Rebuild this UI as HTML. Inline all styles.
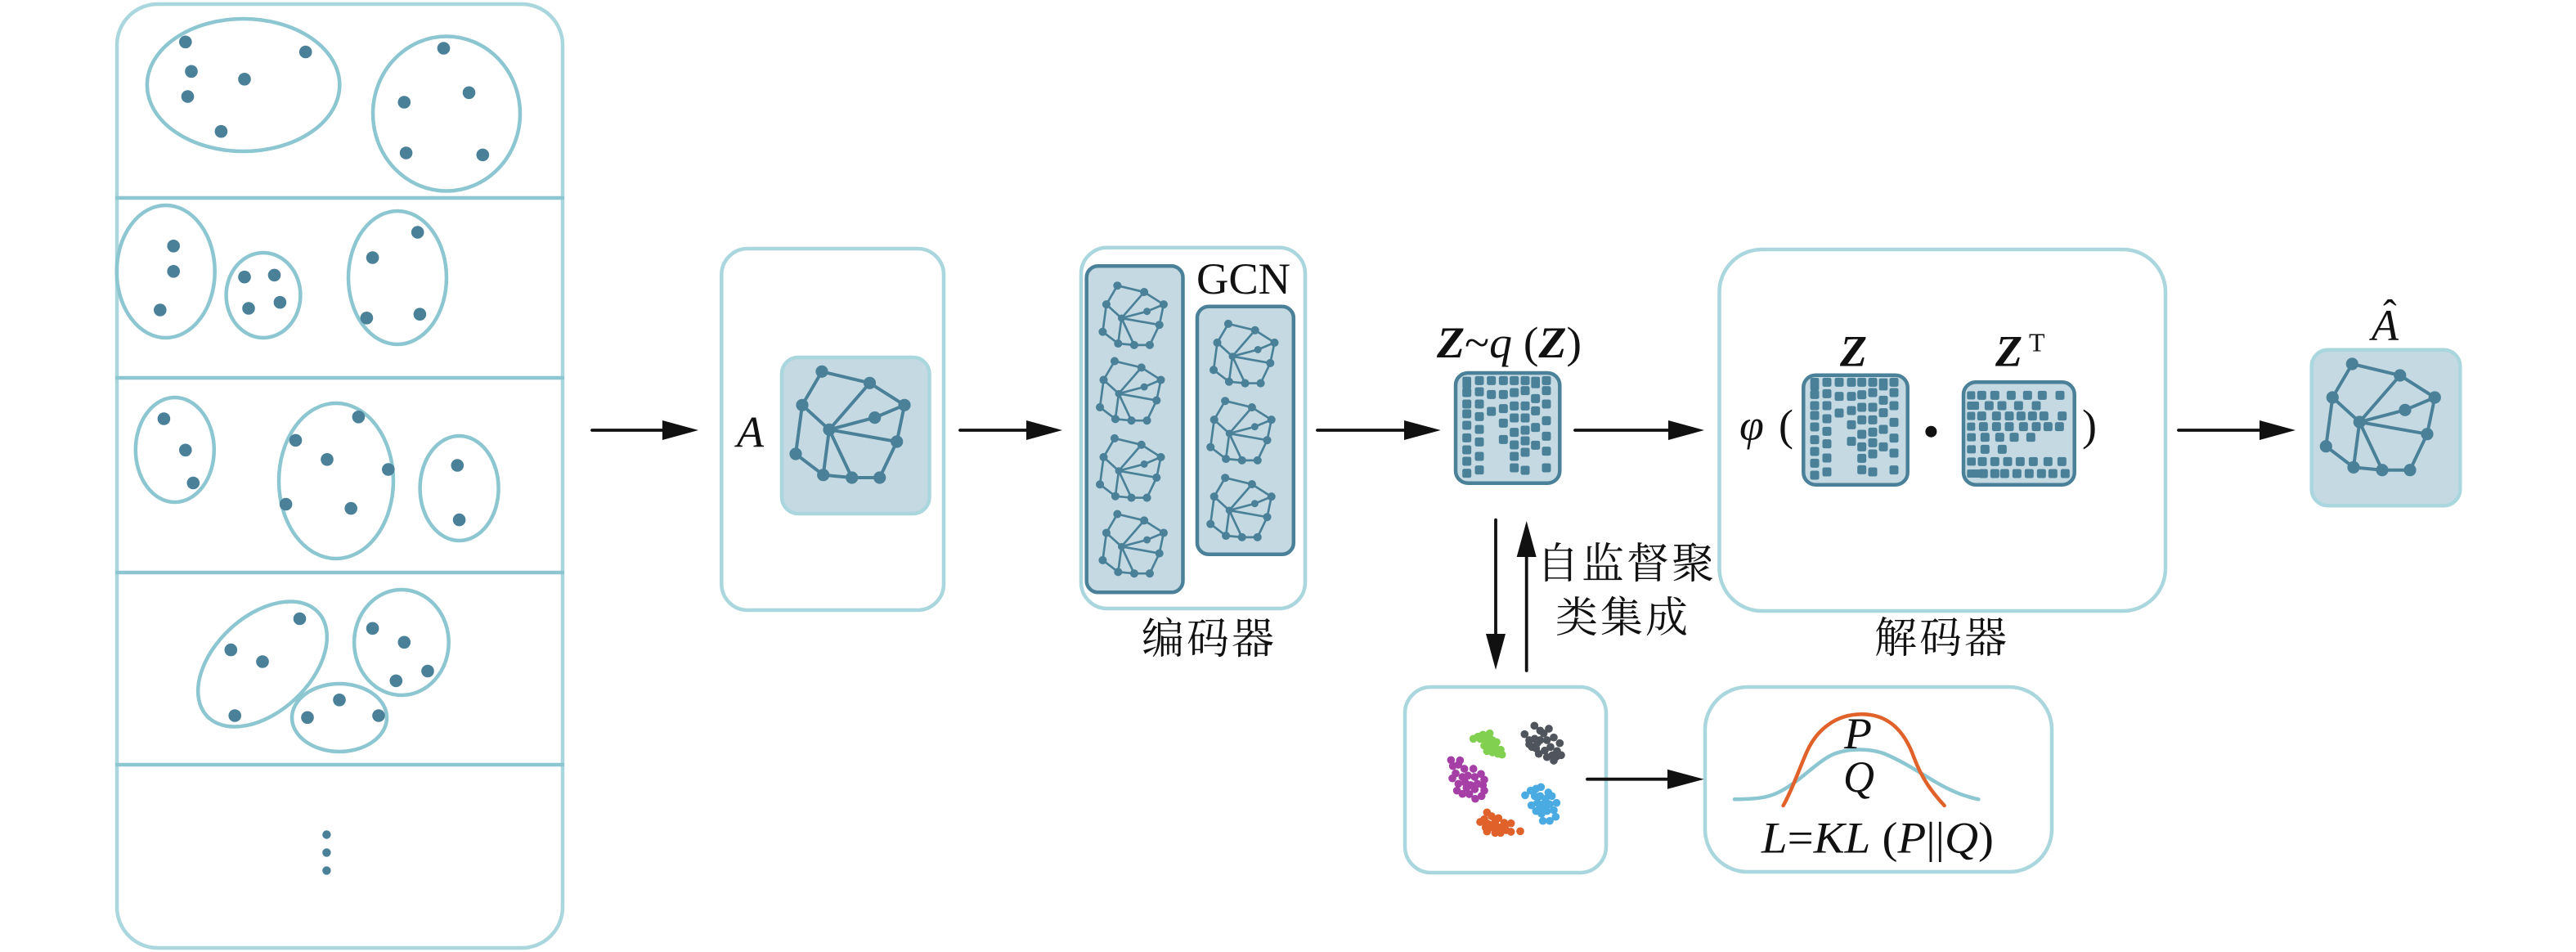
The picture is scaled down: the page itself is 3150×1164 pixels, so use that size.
<!DOCTYPE html>
<html><head><meta charset="utf-8"><style>
html,body{margin:0;padding:0;background:#fff;width:3150px;height:1164px;overflow:hidden}
svg{display:block}
text{font-family:"Liberation Serif","Noto Serif CJK SC",serif;fill:#111;font-size:54px}
.zh{font-family:"Liberation Serif","Noto Serif CJK SC",serif;font-size:52px;letter-spacing:3px}
.i{font-style:italic}.b{font-weight:bold;font-style:italic}
.box{fill:#fff;stroke:#aad6de;stroke-width:4.500}
.lt{fill:#c5d9e2;stroke:#aad6de;stroke-width:4.500}
.dk{fill:#c5d9e2;stroke:#4a8199;stroke-width:4.500}
.el{fill:none;stroke:#8cc6d0;stroke-width:4.500}
.dv{stroke:#8cc6d0;stroke-width:4.500}
.d circle{fill:#4a8199;r:7.800px}
.a line{stroke:#111;stroke-width:3.800;stroke-linecap:round}
.a polygon{fill:#111}
</style></head><body>
<svg xmlns="http://www.w3.org/2000/svg" width="3150" height="1164" viewBox="0 0 3150 1164">
<defs>
<g id="g">
<path d="M-9-71L49.500-57L92-30L55.700-14.700L0 0M-9-71L-33-30L0 0L49.500-57M-33-30L-41 29.700L-7.300 55.400L0 0L27.700 58.700M-7.300 55.400L27.700 58.700L61.700 58.700L82.700 14.700L0 0M92-30L82.700 14.700" fill="none" stroke="#4a8199" stroke-width="4" stroke-linejoin="round"/>
<g fill="#4a8199"><circle cx="-9" cy="-71" r="7.600"/><circle cx="49.500" cy="-57" r="7.600"/><circle cx="92" cy="-30" r="7.600"/><circle cx="55.700" cy="-14.700" r="7.600"/><circle cx="-33" cy="-30" r="7.600"/><circle r="7.600"/><circle cx="82.700" cy="14.700" r="7.600"/><circle cx="-41" cy="29.700" r="7.600"/><circle cx="-7.300" cy="55.400" r="7.600"/><circle cx="27.700" cy="58.700" r="7.600"/><circle cx="61.700" cy="58.700" r="7.600"/></g>
</g>
<g id="s" transform="scale(.56)">
<path d="M-9-71L49.500-57L92-30L55.700-14.700L0 0M-9-71L-33-30L0 0L49.500-57M-33-30L-41 29.700L-7.300 55.400L0 0L27.700 58.700M-7.300 55.400L27.700 58.700L61.700 58.700L82.700 14.700L0 0M92-30L82.700 14.700" fill="none" stroke="#4a8199" stroke-width="4.800" stroke-linejoin="round"/>
<g fill="#4a8199"><circle cx="-9" cy="-71" r="9"/><circle cx="49.500" cy="-57" r="9"/><circle cx="92" cy="-30" r="9"/><circle cx="55.700" cy="-14.700" r="8"/><circle cx="-33" cy="-30" r="9"/><circle r="8"/><circle cx="82.700" cy="14.700" r="9"/><circle cx="-41" cy="29.700" r="9"/><circle cx="-7.300" cy="55.400" r="9"/><circle cx="27.700" cy="58.700" r="9"/><circle cx="61.700" cy="58.700" r="9"/></g>
</g>
<rect id="c" x="-16.500" y="-16.500" width="33" height="33" rx="7" fill="#4a8199"/>
</defs>

<!-- left panel -->
<rect class="box" x="143" y="5" width="545" height="1154" rx="50"/>
<path class="dv" d="M141 242H690M141 462H690M141 700H690M141 935H690"/>
<g class="el">
<ellipse cx="297.600" cy="104" rx="117.700" ry="81"/>
<ellipse cx="546" cy="139" rx="90" ry="94.500"/>
<ellipse cx="202.700" cy="332" rx="60" ry="81"/>
<ellipse cx="322" cy="361" rx="45.400" ry="52"/>
<ellipse cx="486" cy="339.500" rx="60" ry="81.500"/>
<ellipse cx="213.800" cy="550" rx="48" ry="64"/>
<ellipse cx="411" cy="588" rx="70" ry="95"/>
<ellipse cx="561.600" cy="597" rx="48" ry="64"/>
<ellipse cx="321" cy="812" rx="93" ry="58.500" transform="rotate(-43 321 812)"/>
<ellipse cx="490.900" cy="785.500" rx="57.800" ry="64.500"/>
<ellipse cx="415" cy="877.500" rx="58" ry="41.500"/>
</g>
<g class="d">
<circle cx="226.800" cy="51.300"/><circle cx="373.700" cy="63.500"/><circle cx="234" cy="87.300"/><circle cx="299" cy="96.800"/><circle cx="229.500" cy="118"/><circle cx="270.400" cy="160.700"/>
<circle cx="542.500" cy="59"/><circle cx="573.500" cy="113.300"/><circle cx="494.300" cy="125"/><circle cx="496.600" cy="187"/><circle cx="590.300" cy="189.400"/>
<circle cx="212.200" cy="300.800"/><circle cx="212.200" cy="331.800"/><circle cx="195.800" cy="379"/>
<circle cx="299" cy="338.700"/><circle cx="335.500" cy="336.400"/><circle cx="304" cy="377"/><circle cx="342.400" cy="369.700"/>
<circle cx="510.700" cy="284"/><circle cx="455.600" cy="315"/><circle cx="448.400" cy="388.800"/><circle cx="513.400" cy="384.200"/>
<circle cx="200.400" cy="512"/><circle cx="226.800" cy="550.300"/><circle cx="236.300" cy="590.500"/>
<circle cx="438.400" cy="509.800"/><circle cx="361.500" cy="538.400"/><circle cx="400" cy="561.800"/><circle cx="474.800" cy="574"/><circle cx="349.600" cy="616.500"/><circle cx="429.200" cy="621.600"/>
<circle cx="559.300" cy="569"/><circle cx="561.600" cy="635.600"/>
<circle cx="366.500" cy="756.500"/><circle cx="282.300" cy="794.600"/><circle cx="321" cy="809"/><circle cx="287.200" cy="875"/>
<circle cx="455.600" cy="768.300"/><circle cx="494.300" cy="785.300"/><circle cx="523" cy="820.500"/><circle cx="484.300" cy="832.400"/>
<circle cx="415" cy="855.800"/><circle cx="376" cy="877.300"/><circle cx="463" cy="875"/>
</g>
<g fill="#4a8199"><circle cx="399.400" cy="1020.500" r="5.200"/><circle cx="399.400" cy="1042.400" r="5.200"/><circle cx="399.400" cy="1064.400" r="5.200"/></g>

<!-- A panel -->
<rect class="box" x="882.300" y="304" width="271.700" height="442" rx="32"/>
<rect class="lt" x="956" y="437" width="180.500" height="191" rx="20"/>
<use href="#g" x="1014" y="525.300"/>
<text class="i" x="901" y="546.500" textLength="33" lengthAdjust="spacingAndGlyphs">A</text>

<!-- encoder -->
<rect class="box" x="1322" y="302.700" width="274" height="441.300" rx="32"/>
<rect class="dk" x="1328.700" y="325.300" width="117.800" height="399" rx="14"/>
<rect class="dk" x="1464" y="374.700" width="117.800" height="303" rx="14"/>
<use href="#s" x="1371.400" y="389"/>
<use href="#s" x="1368" y="481.300"/>
<use href="#s" x="1368" y="575.700"/>
<use href="#s" x="1371.400" y="668.300"/>
<use href="#s" x="1507" y="435.700"/>
<use href="#s" x="1503.200" y="530"/>
<use href="#s" x="1503.200" y="624"/>
<text x="1463" y="359" textLength="115" lengthAdjust="spacingAndGlyphs">GCN</text>
<text class="zh" x="1396" y="799">编码器</text>

<!-- Z latent -->
<text x="1757" y="437" textLength="177" lengthAdjust="spacingAndGlyphs"><tspan class="b">Z</tspan>~<tspan class="i">q</tspan> (<tspan class="b">Z</tspan>)</text>
<rect class="dk" x="1780" y="456" width="127.300" height="134.700" rx="15"/>
<g transform="translate(1760 440) scale(.33333)">
<rect x="85" y="62" width="32" height="44" rx="6" fill="#4a8199"/>
<use href="#c" x="101" y="120"/><use href="#c" x="101" y="162"/><use href="#c" x="101" y="198"/><use href="#c" x="101" y="240"/><use href="#c" x="101" y="286"/><use href="#c" x="101" y="330"/><use href="#c" x="101" y="372"/><use href="#c" x="101" y="416"/>
<use href="#c" x="147" y="76"/><use href="#c" x="147" y="117"/><use href="#c" x="147" y="162"/><use href="#c" x="147" y="208"/><use href="#c" x="147" y="255"/><use href="#c" x="147" y="301"/><use href="#c" x="147" y="354"/><use href="#c" x="147" y="404"/>
<use href="#c" x="191" y="76"/><use href="#c" x="191" y="127"/><use href="#c" x="191" y="189"/>
<use href="#c" x="235" y="76"/><use href="#c" x="235" y="127"/><use href="#c" x="235" y="179"/><use href="#c" x="235" y="232"/><use href="#c" x="235" y="292"/>
<use href="#c" x="275" y="76"/><use href="#c" x="275" y="120"/><use href="#c" x="275" y="169"/><use href="#c" x="275" y="213"/><use href="#c" x="275" y="266"/><use href="#c" x="275" y="312"/><use href="#c" x="275" y="354"/><use href="#c" x="275" y="396"/>
<use href="#c" x="315" y="76"/><use href="#c" x="315" y="113"/><use href="#c" x="315" y="169"/><use href="#c" x="315" y="213"/><use href="#c" x="315" y="258"/><use href="#c" x="315" y="297"/><use href="#c" x="315" y="339"/><use href="#c" x="315" y="405"/>
<rect x="337" y="62" width="32" height="42" rx="6" fill="#4a8199"/>
<use href="#c" x="353" y="142"/><use href="#c" x="353" y="187"/><use href="#c" x="353" y="248"/><use href="#c" x="353" y="313"/>
<use href="#c" x="393" y="76"/><use href="#c" x="393" y="113"/><use href="#c" x="393" y="162"/><use href="#c" x="393" y="223"/><use href="#c" x="393" y="280"/><use href="#c" x="393" y="335"/><use href="#c" x="393" y="396"/>
</g>

<!-- decoder -->
<rect class="box" x="2102.500" y="305" width="545.500" height="442" rx="52"/>
<text class="i" x="2127" y="538">φ</text>
<text x="2175" y="538">(</text>
<text x="2546" y="538">)</text>
<text class="b" x="2250" y="447.500">Z</text>
<text class="b" x="2440" y="447.500">Z</text>
<text x="2481" y="429.500" style="font-size:32px">T</text>
<text class="zh" x="2292" y="798">解码器</text>
<circle cx="2361.400" cy="527.700" r="7" fill="#111"/>
<rect class="dk" x="2205.300" y="458.700" width="127.400" height="134" rx="15"/>
<g transform="translate(2190 440) scale(.33333)">
<rect x="71" y="66" width="32" height="46" rx="6" fill="#4a8199"/>
<use href="#c" x="87" y="127"/><use href="#c" x="87" y="168"/><use href="#c" x="87" y="204"/><use href="#c" x="87" y="246"/><use href="#c" x="87" y="293"/><use href="#c" x="87" y="336"/><use href="#c" x="87" y="379"/><use href="#c" x="87" y="423"/>
<use href="#c" x="132" y="82"/><use href="#c" x="132" y="124"/><use href="#c" x="132" y="168"/><use href="#c" x="132" y="216"/><use href="#c" x="132" y="262"/><use href="#c" x="132" y="308"/><use href="#c" x="132" y="360"/><use href="#c" x="132" y="411"/>
<use href="#c" x="177" y="82"/><use href="#c" x="177" y="134"/><use href="#c" x="177" y="195"/>
<use href="#c" x="222" y="82"/><use href="#c" x="222" y="134"/><use href="#c" x="222" y="186"/><use href="#c" x="222" y="238"/><use href="#c" x="222" y="299"/>
<use href="#c" x="260" y="82"/><use href="#c" x="260" y="128"/><use href="#c" x="260" y="174"/><use href="#c" x="260" y="220"/><use href="#c" x="260" y="273"/><use href="#c" x="260" y="319"/><use href="#c" x="260" y="361"/><use href="#c" x="260" y="403"/>
<use href="#c" x="300" y="82"/><use href="#c" x="300" y="120"/><use href="#c" x="300" y="174"/><use href="#c" x="300" y="220"/><use href="#c" x="300" y="265"/><use href="#c" x="300" y="304"/><use href="#c" x="300" y="345"/><use href="#c" x="300" y="411"/>
<rect x="323" y="68" width="32" height="44" rx="6" fill="#4a8199"/>
<use href="#c" x="339" y="148"/><use href="#c" x="339" y="194"/><use href="#c" x="339" y="255"/><use href="#c" x="339" y="319"/>
<use href="#c" x="378" y="82"/><use href="#c" x="378" y="120"/><use href="#c" x="378" y="168"/><use href="#c" x="378" y="229"/><use href="#c" x="378" y="287"/><use href="#c" x="378" y="342"/><use href="#c" x="378" y="404"/>
</g>
<rect class="dk" x="2401" y="467.300" width="135.700" height="125.400" rx="15"/>
<g transform="translate(2390 450) scale(.33333)">
<rect x="46" y="85" width="30" height="30" rx="6" fill="#4a8199"/><use href="#c" x="100" y="100"/><use href="#c" x="148" y="100"/><use href="#c" x="208" y="100"/><use href="#c" x="268" y="100"/><use href="#c" x="322" y="100"/><use href="#c" x="387" y="100"/>
<rect x="46" y="123" width="44" height="30" rx="6" fill="#4a8199"/><use href="#c" x="127" y="138"/><use href="#c" x="174" y="138"/><use href="#c" x="235" y="138"/><use href="#c" x="300" y="138"/>
<rect x="46" y="161" width="30" height="30" rx="6" fill="#4a8199"/><use href="#c" x="100" y="176"/><use href="#c" x="154" y="176"/><use href="#c" x="201" y="176"/><use href="#c" x="244" y="176"/><use href="#c" x="286" y="176"/><use href="#c" x="328" y="176"/><use href="#c" x="395" y="176"/>
<rect x="46" y="200" width="30" height="30" rx="6" fill="#4a8199"/><use href="#c" x="106" y="215"/><use href="#c" x="154" y="215"/><use href="#c" x="201" y="215"/><use href="#c" x="253" y="215"/><use href="#c" x="300" y="215"/><use href="#c" x="343" y="215"/><use href="#c" x="385" y="215"/>
<rect x="46" y="239" width="32" height="30" rx="6" fill="#4a8199"/><use href="#c" x="112" y="254"/><use href="#c" x="166" y="254"/><use href="#c" x="219" y="254"/><use href="#c" x="280" y="254"/>
<rect x="46" y="283" width="32" height="30" rx="6" fill="#4a8199"/><use href="#c" x="112" y="298"/><use href="#c" x="175" y="298"/>
<rect x="46" y="328" width="32" height="30" rx="6" fill="#4a8199"/><use href="#c" x="102" y="343"/><use href="#c" x="148" y="343"/><use href="#c" x="195" y="343"/><use href="#c" x="241" y="343"/><use href="#c" x="289" y="343"/><use href="#c" x="343" y="343"/><use href="#c" x="394" y="343"/>
<rect x="46" y="372" width="48" height="30" rx="6" fill="#4a8199"/><use href="#c" x="106" y="387"/><use href="#c" x="148" y="387"/><use href="#c" x="184" y="387"/><use href="#c" x="229" y="387"/><use href="#c" x="274" y="387"/><use href="#c" x="319" y="387"/><use href="#c" x="361" y="387"/><use href="#c" x="406" y="387"/>
</g>

<!-- A hat -->
<text class="i" x="2900" y="416" textLength="33" lengthAdjust="spacingAndGlyphs">A</text>
<text x="2914" y="401" style="font-size:50px">ˆ</text>
<rect class="lt" x="2826.700" y="427.700" width="181.600" height="190.600" rx="20"/>
<use href="#g" x="2885.300" y="516"/>

<!-- cluster box -->
<rect class="box" x="1718" y="840" width="246" height="227" rx="32"/>
<g transform="translate(1750 870) scale(.33333)">
<g fill="#82d050"><circle cx="155" cy="100" r="14.500"/><circle cx="172" cy="92" r="14.500"/><circle cx="190" cy="85" r="14.500"/><circle cx="215" cy="80" r="14.500"/><circle cx="205" cy="100" r="14.500"/><circle cx="225" cy="105" r="14.500"/><circle cx="240" cy="112" r="14.500"/><circle cx="195" cy="125" r="14.500"/><circle cx="215" cy="125" r="14.500"/><circle cx="235" cy="130" r="14.500"/><circle cx="205" cy="145" r="14.500"/><circle cx="225" cy="150" r="14.500"/><circle cx="255" cy="140" r="14.500"/><circle cx="245" cy="155" r="14.500"/><circle cx="260" cy="158" r="14.500"/><circle cx="200" cy="110" r="14.500"/><circle cx="180" cy="100" r="14.500"/></g>
<g fill="#50545c"><circle cx="343" cy="83" r="14.500"/><circle cx="379" cy="52" r="14.500"/><circle cx="400" cy="70" r="14.500"/><circle cx="432" cy="63" r="14.500"/><circle cx="413" cy="80" r="14.500"/><circle cx="450" cy="95" r="14.500"/><circle cx="360" cy="105" r="14.500"/><circle cx="380" cy="100" r="14.500"/><circle cx="400" cy="105" r="14.500"/><circle cx="425" cy="105" r="14.500"/><circle cx="472" cy="116" r="14.500"/><circle cx="370" cy="130" r="14.500"/><circle cx="385" cy="135" r="14.500"/><circle cx="417" cy="143" r="14.500"/><circle cx="438" cy="130" r="14.500"/><circle cx="395" cy="155" r="14.500"/><circle cx="425" cy="167" r="14.500"/><circle cx="450" cy="180" r="14.500"/><circle cx="462" cy="145" r="14.500"/><circle cx="477" cy="160" r="14.500"/><circle cx="460" cy="165" r="14.500"/><circle cx="445" cy="160" r="14.500"/><circle cx="360" cy="120" r="14.500"/><circle cx="390" cy="115" r="14.500"/></g>
<g fill="#a63fa5"><circle cx="73" cy="178" r="14.500"/><circle cx="106" cy="179" r="14.500"/><circle cx="80" cy="200" r="14.500"/><circle cx="100" cy="195" r="14.500"/><circle cx="122" cy="210" r="14.500"/><circle cx="155" cy="210" r="14.500"/><circle cx="90" cy="227" r="14.500"/><circle cx="115" cy="240" r="14.500"/><circle cx="135" cy="235" r="14.500"/><circle cx="183" cy="229" r="14.500"/><circle cx="78" cy="245" r="14.500"/><circle cx="160" cy="240" r="14.500"/><circle cx="195" cy="250" r="14.500"/><circle cx="100" cy="265" r="14.500"/><circle cx="125" cy="260" r="14.500"/><circle cx="145" cy="270" r="14.500"/><circle cx="170" cy="265" r="14.500"/><circle cx="190" cy="270" r="14.500"/><circle cx="95" cy="290" r="14.500"/><circle cx="130" cy="280" r="14.500"/><circle cx="160" cy="285" r="14.500"/><circle cx="195" cy="290" r="14.500"/><circle cx="115" cy="302" r="14.500"/><circle cx="140" cy="303" r="14.500"/><circle cx="185" cy="310" r="14.500"/><circle cx="162" cy="320" r="14.500"/></g>
<g fill="#4aaae2"><circle cx="345" cy="307" r="14.500"/><circle cx="365" cy="290" r="14.500"/><circle cx="385" cy="283" r="14.500"/><circle cx="403" cy="277" r="14.500"/><circle cx="430" cy="297" r="14.500"/><circle cx="443" cy="310" r="14.500"/><circle cx="380" cy="310" r="14.500"/><circle cx="400" cy="310" r="14.500"/><circle cx="420" cy="320" r="14.500"/><circle cx="460" cy="335" r="14.500"/><circle cx="368" cy="344" r="14.500"/><circle cx="390" cy="335" r="14.500"/><circle cx="410" cy="340" r="14.500"/><circle cx="435" cy="340" r="14.500"/><circle cx="385" cy="365" r="14.500"/><circle cx="405" cy="375" r="14.500"/><circle cx="425" cy="365" r="14.500"/><circle cx="450" cy="362" r="14.500"/><circle cx="457" cy="386" r="14.500"/><circle cx="410" cy="401" r="14.500"/><circle cx="435" cy="401" r="14.500"/><circle cx="400" cy="350" r="14.500"/><circle cx="420" cy="350" r="14.500"/></g>
<g fill="#e0622a"><circle cx="205" cy="370" r="14.500"/><circle cx="222" cy="384" r="14.500"/><circle cx="247" cy="391" r="14.500"/><circle cx="180" cy="405" r="14.500"/><circle cx="195" cy="395" r="14.500"/><circle cx="205" cy="410" r="14.500"/><circle cx="235" cy="405" r="14.500"/><circle cx="268" cy="408" r="14.500"/><circle cx="293" cy="410" r="14.500"/><circle cx="200" cy="425" r="14.500"/><circle cx="225" cy="425" r="14.500"/><circle cx="250" cy="425" r="14.500"/><circle cx="270" cy="425" r="14.500"/><circle cx="205" cy="440" r="14.500"/><circle cx="235" cy="445" r="14.500"/><circle cx="255" cy="445" r="14.500"/><circle cx="275" cy="435" r="14.500"/><circle cx="293" cy="441" r="14.500"/><circle cx="327" cy="439" r="14.500"/><circle cx="215" cy="415" r="14.500"/></g>
</g>

<!-- loss box -->
<rect class="box" x="2085" y="840" width="424" height="226" rx="52"/>
<path d="M2121 977.300C2150 977 2165 975 2180 966C2205 952 2225 928 2245 921C2262 915 2285 915 2303 921C2325 930 2345 943 2365 955C2385 967 2400 973 2419.400 977.300" fill="none" stroke="#8cc6d0" stroke-width="4.500" stroke-linecap="round"/>
<path d="M2180.600 985C2192 965 2200 940 2210 918C2222 892 2245 873.300 2276.500 873.300C2308 873.300 2328 892 2340 925C2350 952 2362 968 2377.600 985" fill="none" stroke="#e0622a" stroke-width="4.500" stroke-linecap="round"/>
<text class="i" x="2255" y="915" textLength="34" lengthAdjust="spacingAndGlyphs">P</text>
<text class="i" x="2254" y="968" textLength="38" lengthAdjust="spacingAndGlyphs">Q</text>
<text x="2154" y="1042.500" textLength="284" lengthAdjust="spacingAndGlyphs"><tspan class="i">L</tspan>=<tspan class="i">KL</tspan> (<tspan class="i">P</tspan>||<tspan class="i">Q</tspan>)</text>

<text class="zh" x="1879" y="707">自监督聚</text>
<text class="zh" x="1902" y="773">类集成</text>

<!-- arrows -->
<g class="a">
<line x1="724" y1="526" x2="815" y2="526"/><polygon points="810,514 854,526 810,538"/>
<line x1="1174" y1="526" x2="1256" y2="526"/><polygon points="1255,514 1299,526 1255,538"/>
<line x1="1611" y1="526" x2="1718" y2="526"/><polygon points="1717,514 1761.700,526 1717,538"/>
<line x1="1926" y1="526" x2="2041" y2="526"/><polygon points="2040,514 2084,526 2040,538"/>
<line x1="2664" y1="526" x2="2764" y2="526"/><polygon points="2763,514 2807,526 2763,538"/>
<line x1="1941" y1="952.700" x2="2040" y2="952.700"/><polygon points="2039,940.700 2083.700,952.700 2039,964.700"/>
<line x1="1829" y1="635.700" x2="1829" y2="776"/><polygon points="1817,775 1829,819 1841,775"/>
<line x1="1866.700" y1="820" x2="1866.700" y2="680"/><polygon points="1854.700,681 1866.700,637 1878.700,681"/>
</g>
</svg>
</body></html>
